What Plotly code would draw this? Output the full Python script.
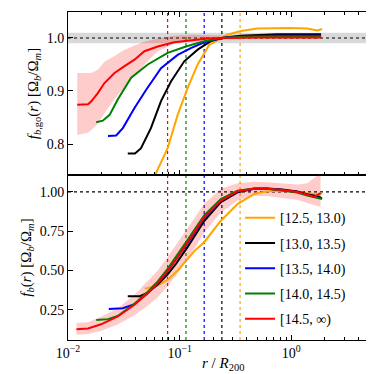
import plotly.graph_objects as go
from plotly.subplots import make_subplots

# mass bins (legend) and colours
bins = ["[12.5, 13.0)", "[13.0, 13.5)", "[13.5, 14.0)", "[14.0, 14.5)", "[14.5, ∞)"]
colors = ["orange", "black", "blue", "green", "red"]

# characteristic radii per bin (dotted verticals), r/R200
r_marks = [0.348, 0.239, 0.166, 0.114, 0.078]

# x tick labels
x_tickvals = [0.01, 0.1, 1]
x_ticktext = ["10<sup>−2</sup>", "10<sup>−1</sup>", "10<sup>0</sup>"]

# --- top panel: f_b,go(r) ---
r_go_orange = [0.0487, 0.0605, 0.0781, 0.096, 0.118, 0.145, 0.184, 0.239, 0.268, 0.354, 0.497, 0.98, 1.39, 1.71, 1.89]
go_orange = [0.70, 0.741, 0.792, 0.855, 0.906, 0.950, 0.987, 1.000, 1.006, 1.013, 1.018, 1.019, 1.018, 1.014, 1.017]

r_go_black = [0.0343, 0.0398, 0.0451, 0.0553, 0.0681, 0.0836, 0.110, 0.145, 0.190, 0.239, 0.35, 0.5, 0.75, 1.1, 1.5, 1.85]
go_black = [0.782, 0.782, 0.792, 0.830, 0.881, 0.918, 0.956, 0.978, 0.994, 1.000, 1.004, 1.006, 1.007, 1.007, 1.007, 1.007]

r_go_blue = [0.0228, 0.0270, 0.0310, 0.0394, 0.0500, 0.0681, 0.096, 0.126, 0.166, 0.237, 0.35, 0.5, 0.75, 1.1, 1.5, 1.85]
go_blue = [0.815, 0.816, 0.830, 0.868, 0.902, 0.943, 0.968, 0.981, 0.992, 1.000, 1.003, 1.004, 1.004, 1.004, 1.004, 1.004]

r_go_green = [0.0179, 0.0205, 0.0236, 0.0279, 0.0368, 0.0518, 0.0781, 0.114, 0.166, 0.237, 0.35, 0.5, 0.75, 1.1, 1.5, 1.85]
go_green = [0.841, 0.844, 0.855, 0.884, 0.925, 0.950, 0.972, 0.984, 0.994, 1.000, 1.002, 1.003, 1.003, 1.003, 1.003, 1.003]

r_go_red = [0.0121, 0.0151, 0.0161, 0.0185, 0.0212, 0.0261, 0.0321, 0.0394, 0.0484, 0.0637, 0.0894, 0.126, 0.178,
            0.237, 0.35, 0.5, 0.75, 1.1, 1.5, 1.85]
go_red = [0.874, 0.875, 0.880, 0.896, 0.915, 0.934, 0.947, 0.959, 0.975, 0.984, 0.992, 0.996, 0.999,
          1.000, 1.001, 1.001, 1.001, 1.001, 1.001, 1.001]
go_red_lo = [0.817, 0.821, 0.826, 0.838, 0.858, 0.885, 0.907, 0.928, 0.950, 0.975, 0.989, 0.994, 0.996,
             0.997, 0.998, 0.998, 0.998, 0.998, 0.998, 0.998]
go_red_hi = [0.934, 0.934, 0.934, 0.940, 0.955, 0.966, 0.978, 0.986, 0.993, 0.999, 1.004, 1.006, 1.005,
             1.004, 1.004, 1.004, 1.004, 1.004, 1.004, 1.004]

# --- bottom panel: f_b(r) ---
r_fb_orange = [0.0487, 0.0518, 0.0637, 0.0781, 0.096, 0.113, 0.136, 0.166, 0.234, 0.330, 0.466, 0.611, 0.83, 1.13, 1.39, 1.71, 1.89]
fb_orange = [0.385, 0.388, 0.405, 0.440, 0.500, 0.560, 0.625, 0.680, 0.817, 0.923, 0.987, 1.005, 1.008, 1.003, 0.990, 0.985, 0.990]

r_fb_black = [0.0343, 0.0437, 0.0518, 0.0637, 0.0781, 0.0926, 0.118, 0.166, 0.234, 0.330, 0.466, 0.611, 0.83, 1.13, 1.39, 1.71, 1.83]
fb_black = [0.335, 0.335, 0.358, 0.410, 0.475, 0.541, 0.650, 0.815, 0.935, 0.998, 1.020, 1.022, 1.015, 1.003, 0.985, 0.970, 0.968]

r_fb_blue = [0.0232, 0.0310, 0.0394, 0.0518, 0.0637, 0.0781, 0.096, 0.118, 0.166, 0.234, 0.330, 0.466, 0.611, 0.83, 1.13, 1.39, 1.71, 1.89]
fb_blue = [0.254, 0.260, 0.285, 0.355, 0.420, 0.495, 0.585, 0.675, 0.835, 0.945, 1.003, 1.020, 1.020, 1.013, 1.000, 0.982, 0.965, 0.962]

r_fb_green = [0.0179, 0.0228, 0.0279, 0.0394, 0.0518, 0.0637, 0.0781, 0.096, 0.118, 0.166, 0.234, 0.330, 0.466, 0.611, 0.83, 1.13, 1.39, 1.71, 1.89]
fb_green = [0.184, 0.190, 0.210, 0.288, 0.365, 0.430, 0.510, 0.600, 0.695, 0.850, 0.955, 1.008, 1.022, 1.020, 1.010, 0.997, 0.978, 0.960, 0.955]

r_fb_red = [0.0119, 0.0151, 0.0198, 0.0279, 0.0394, 0.0518, 0.0637, 0.0781, 0.096, 0.118, 0.166, 0.234, 0.330, 0.466, 0.611,
            0.83, 1.13, 1.39, 1.60, 1.83]
fb_red = [0.125, 0.130, 0.157, 0.207, 0.281, 0.356, 0.420, 0.497, 0.585, 0.680, 0.839, 0.945, 1.005, 1.022, 1.020,
          1.012, 1.000, 0.983, 0.968, 0.993]
fb_red_lo = [0.090, 0.095, 0.115, 0.155, 0.215, 0.275, 0.330, 0.400, 0.480, 0.570, 0.740, 0.870, 0.945, 0.975, 0.972,
             0.962, 0.950, 0.930, 0.915, 0.905]
fb_red_hi = [0.165, 0.170, 0.205, 0.260, 0.345, 0.430, 0.500, 0.585, 0.675, 0.770, 0.925, 1.020, 1.055, 1.065, 1.062,
             1.055, 1.048, 1.055, 1.090, 1.120]

go_sets = [(r_go_orange, go_orange), (r_go_black, go_black), (r_go_blue, go_blue),
           (r_go_green, go_green), (r_go_red, go_red)]
fb_sets = [(r_fb_orange, fb_orange), (r_fb_black, fb_black), (r_fb_blue, fb_blue),
           (r_fb_green, fb_green), (r_fb_red, fb_red)]

FONT = "Liberation Serif"
band_col = "rgba(255,0,0,0.2)"

fig = make_subplots(rows=2, cols=1, shared_xaxes=True, vertical_spacing=0)

# scatter bands
for row, r, lo, hi in [(1, r_go_red, go_red_lo, go_red_hi), (2, r_fb_red, fb_red_lo, fb_red_hi)]:
    fig.add_trace(go.Scatter(x=r, y=lo, mode="lines", line=dict(width=0), showlegend=False,
                             hoverinfo="skip"), row=row, col=1)
    fig.add_trace(go.Scatter(x=r, y=hi, mode="lines", line=dict(width=0), fill="tonexty",
                             fillcolor=band_col, showlegend=False, hoverinfo="skip"), row=row, col=1)

for i, (r, v) in enumerate(go_sets):
    fig.add_trace(go.Scatter(x=r, y=v, mode="lines", line=dict(color=colors[i], width=2),
                             showlegend=False), row=1, col=1)
for i, (r, v) in enumerate(fb_sets):
    fig.add_trace(go.Scatter(x=r, y=v, mode="lines", line=dict(color=colors[i], width=2),
                             name=bins[i], legendgroup=bins[i]), row=2, col=1)

# reference lines
fig.add_shape(type="rect", xref="paper", x0=0, x1=1, yref="y", y0=0.99, y1=1.01,
              fillcolor="rgba(0,0,0,0.15)", line_width=0, layer="below")
for yr in ["y", "y2"]:
    fig.add_shape(type="line", xref="paper", x0=0, x1=1, yref=yr, y0=1.0, y1=1.0,
                  line=dict(color="black", width=1.2, dash="dot"), layer="below")
for i, rm in enumerate(r_marks):
    fig.add_shape(type="line", xref="x", x0=rm, x1=rm, yref="paper", y0=0, y1=1,
                  line=dict(color=colors[i], width=1.2, dash="dot"), layer="below")

xcommon = dict(type="log", range=[-2, 0.777], ticks="inside", ticklen=5, tickcolor="black",
               showline=True, linecolor="black", linewidth=1, showgrid=False, zeroline=False,
               tickvals=x_tickvals, ticktext=x_ticktext, tickfont=dict(size=14),
               minor=dict(ticks="inside", ticklen=3, tickcolor="black", dtick="D1", showgrid=False))
fig.update_xaxes(**xcommon)
fig.update_xaxes(mirror="ticks", showticklabels=False, row=1, col=1)
fig.update_xaxes(mirror=True, row=2, col=1)

# x axis title as an annotation so the subscript stays inside the canvas
fig.add_annotation(text="<i>r</i> / <i>R</i><sub>200</sub>", xref="paper", yref="paper",
                   x=0.5, y=0, xanchor="center", yanchor="top", yshift=-13,
                   showarrow=False, font=dict(size=15))

ycommon = dict(ticks="inside", ticklen=5, tickcolor="black", showline=True, linecolor="black",
               linewidth=1, mirror="ticks", showgrid=False, zeroline=False, tickfont=dict(size=14))
fig.update_yaxes(**ycommon)
fig.update_yaxes(range=[0.7415, 1.049], tickvals=[0.8, 0.9, 1.0], ticktext=["0.8", "0.9", "1.0"],
                 domain=[0.503, 1],
                 title=dict(text="<i>f</i><sub><i>b</i>,go</sub>(<i>r</i>) [Ω<sub><i>b</i></sub>/Ω<sub><i>m</i></sub>]",
                            font=dict(size=15), standoff=4), row=1, col=1)
fig.update_yaxes(range=[0.057, 1.108], tickvals=[0.25, 0.5, 0.75, 1.0],
                 ticktext=["0.25", "0.50", "0.75", "1.00"], domain=[0, 0.503],
                 title=dict(text="<i>f</i><sub><i>b</i></sub>(<i>r</i>) [Ω<sub><i>b</i></sub>/Ω<sub><i>m</i></sub>]",
                            font=dict(size=15), standoff=4), row=2, col=1)

fig.update_layout(
    width=374, height=374,
    margin=dict(l=60, r=4, t=4, b=42),
    plot_bgcolor="white", paper_bgcolor="white",
    font=dict(family=FONT, size=13, color="black"),
    legend=dict(x=0.555, y=0.42, xanchor="left", yanchor="top", bgcolor="rgba(0,0,0,0)",
                font=dict(size=14), tracegroupgap=4, itemwidth=30),
)

fig.write_html("out.html")
